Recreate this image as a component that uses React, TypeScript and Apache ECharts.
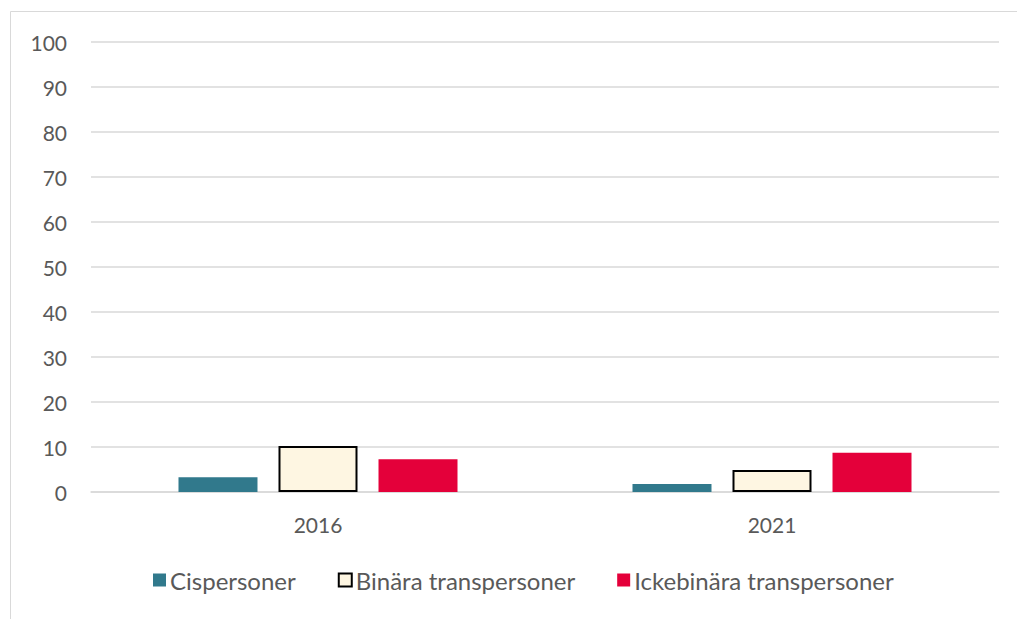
import React, { useEffect, useRef } from "react";
import * as echarts from "echarts";

const categories = ["2016", "2021"];
const seriesNames = ["Cispersoner", "Binära transpersoner", "Ickebinära transpersoner"];
const cisValues = [3.3, 1.8];
const binaryValues = [10.2, 4.9];
const nonBinaryValues = [7.3, 8.7];
const yTicks = { min: 0, max: 100, interval: 10 };

export default function App() {
  const ref = useRef<HTMLDivElement>(null);
  useEffect(() => {
    if (!ref.current) return;
    const chart = echarts.init(ref.current, undefined, { renderer: "svg" });
    const font = "Lato, 'Open Sans', sans-serif";
    chart.setOption({
      animation: false,
      backgroundColor: "#ffffff",
      textStyle: { fontFamily: font },
      graphic: [
        {
          type: "rect",
          shape: { x: 10.5, y: 11.5, width: 1100, height: 800 },
          style: { fill: "none", stroke: "#d9d9d9", lineWidth: 1 },
          silent: true,
        },
      ],
      grid: { left: 91, right: 18, top: 42, bottom: 127, containLabel: false },
      xAxis: {
        type: "category",
        data: categories,
        axisLine: { show: true, lineStyle: { color: "#d9d9d9", width: 1.5 } },
        axisTick: { show: false },
        axisLabel: { color: "#595959", fontSize: 21, margin: 22, fontFamily: font },
      },
      yAxis: {
        type: "value",
        min: yTicks.min,
        max: yTicks.max,
        interval: yTicks.interval,
        axisLine: { show: false },
        axisTick: { show: false },
        splitLine: { lineStyle: { color: "#d9d9d9", width: 1.5 } },
        axisLabel: { color: "#595959", fontSize: 21, margin: 24, fontFamily: font },
      },
      legend: {
        bottom: 22,
        left: 148,
        itemWidth: 13,
        itemHeight: 13,
        itemGap: 42,
        textStyle: { color: "#595959", fontSize: 24, fontFamily: font, padding: [0, 0, 0, -1] },
        data: seriesNames.map((n) => ({ name: n, icon: "rect" })),
      },
      series: [
        {
          name: seriesNames[0],
          type: "bar",
          data: cisValues,
          barWidth: "17.4%",
          barGap: "26.6%",
          itemStyle: { color: "#31798c" },
        },
        {
          name: seriesNames[1],
          type: "bar",
          data: binaryValues,
          barWidth: "17.4%",
          itemStyle: { color: "#fef6e2", borderColor: "#000000", borderWidth: 2 },
        },
        {
          name: seriesNames[2],
          type: "bar",
          data: nonBinaryValues,
          barWidth: "17.4%",
          itemStyle: { color: "#e4003a" },
        },
      ],
    });
    return () => chart.dispose();
  }, []);
  return (
    <div
      ref={ref}
      style={{ position: "fixed", left: 0, top: 0, width: 1017, height: 619 }}
    />
  );
}
